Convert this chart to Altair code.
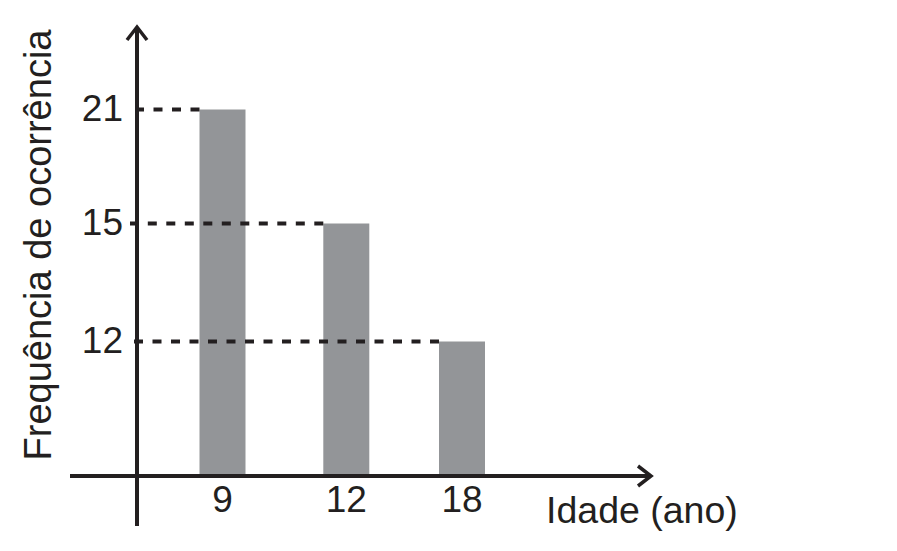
import altair as alt
import pandas as pd

# data
ages = [9, 12, 18]
freqs = [21, 15, 12]
x_title = "Idade (ano)"
y_title = "Frequência de ocorrência"

FONT = "Liberation Sans"
INK = "#231f20"
GRAY = "#939598"

df = pd.DataFrame({"idade": ages, "freq": freqs, "lab_x": [str(a) for a in ages],
                   "lab_y": [str(f) for f in freqs]})
one = pd.DataFrame({"zero": [0]})

# schematic (non-proportional) axes as in the reference -> piecewise scales
xscale = alt.Scale(domain=ages, range=[214.5, 338.3, 454], nice=False, zero=False, padding=0)
yscale = alt.Scale(domain=[0, 12, 15, 21], range=[468, 333.5, 215.5, 101.5], nice=False,
                   padding=0)

X = lambda: alt.X("idade:Q", scale=xscale, axis=None)
Y = lambda: alt.Y("freq:Q", scale=yscale, axis=None)
Y0 = lambda: alt.Y("zero:Q", scale=yscale, axis=None)

bars = alt.Chart(df).mark_bar(size=46, color=GRAY).encode(x=X(), y=Y())

dashes = alt.Chart(df).mark_rule(color=INK, strokeWidth=4, strokeDash=[9, 9.5],
                                 xOffset=-23).encode(
    x=X(), x2=alt.value(122), y=Y())

xaxis = alt.Chart(one).mark_rule(color=INK, strokeWidth=4).encode(
    x=alt.value(62), x2=alt.value(643), y=Y0())
yaxis = alt.Chart(one).mark_rule(color=INK, strokeWidth=4).encode(
    x=alt.value(129), y=alt.value(19), y2=alt.value(518))

up_arrow = alt.Chart(one).mark_point(shape="M-0.77,1L0,0L0.77,1", size=676, filled=False,
                                     stroke=INK, strokeWidth=3.5, opacity=1).encode(
    x=alt.value(129), y=alt.value(19))
right_arrow = alt.Chart(one).mark_point(shape="M-1,-0.77L0,0L-1,0.77", size=676, filled=False,
                                        stroke=INK, strokeWidth=3.5, opacity=1).encode(
    x=alt.value(643), y=Y0())

ylabels = alt.Chart(df).mark_text(font=FONT, fontSize=37, color=INK, align="right",
                                  baseline="middle").encode(
    x=alt.value(115), y=Y(), text="lab_y:N")
xlabels = alt.Chart(df).mark_text(font=FONT, fontSize=37, color=INK, align="center",
                                  baseline="alphabetic").encode(
    x=X(), y=alt.value(504), text="lab_x:N")

xtitle = alt.Chart(one).mark_text(text=x_title, font=FONT, fontSize=37.5, color=INK,
                                  align="left", baseline="alphabetic").encode(
    x=alt.value(538), y=alt.value(515))
ytitle = alt.Chart(one).mark_text(text=y_title, font=FONT, fontSize=38, color=INK,
                                  align="center", baseline="alphabetic", angle=270).encode(
    x=alt.value(43), y=alt.value(237))

chart = alt.layer(bars, dashes, xaxis, yaxis, up_arrow, right_arrow,
                  ylabels, xlabels, xtitle, ytitle).properties(
    width=880, height=528,
    autosize=alt.AutoSizeParams(type="none"),
    padding=0,
).configure_view(stroke="transparent", strokeWidth=0)

chart.save("out.html", embed_options={"renderer": "svg", "actions": False})
